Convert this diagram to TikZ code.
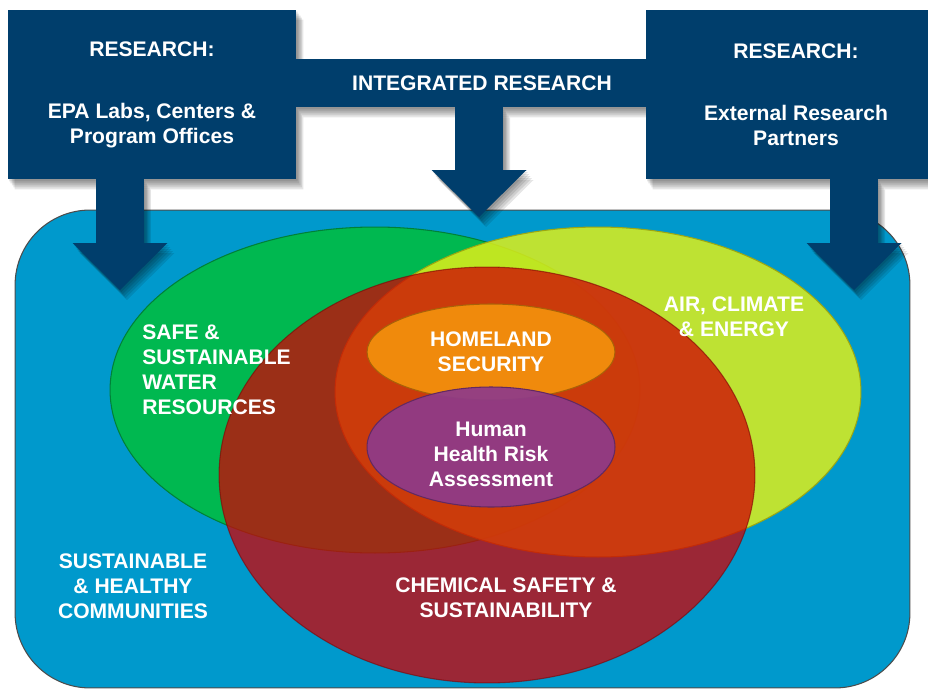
\documentclass[tikz,border=0pt]{standalone}
\usepackage{fontspec}
\setmainfont{Liberation Sans}
\usetikzlibrary{arrows.meta,shapes.geometric}
\definecolor{navy}{RGB}{0,62,108}
\definecolor{bluebg}{RGB}{0,153,204}
\definecolor{water}{RGB}{0,184,80}
\definecolor{lime}{RGB}{224,239,25}
\definecolor{chem}{RGB}{208,2,4}
\definecolor{homeland}{RGB}{240,138,12}
\definecolor{hhra}{RGB}{142,58,138}
\pgfdeclarelayer{shade}
\pgfdeclarelayer{front}
\pgfsetlayers{main,shade,front}

\begin{document}
\begin{tikzpicture}[x=0.02cm,y=-0.02cm,
  every node/.style={font=\bfseries\fontsize{12}{14.2}\selectfont},
  navybox/.style={rectangle,fill=navy,inner sep=0,text=white,align=center},
  blob/.style={ellipse,inner sep=0,line width=.6pt},
  lbl/.style={text=white,align=center,inner sep=0},
  bigarrow/.style={line width=0.96cm,-{Triangle[width=1.9cm,length=0.94cm,line width=0pt]}}]
\useasboundingbox (0,0) rectangle (928,692);

% Area
\node[draw=black!70,line width=.6pt,fill=bluebg,rounded corners=1.5cm,minimum width=17.9cm,minimum height=9.56cm,inner sep=0] (area) at (462.5,449) {};

% Circles
\node[blob,fill=water,draw=water!70!black,minimum width=10.6cm,minimum height=6.52cm] (swr) at (375,390) {};
\node[blob,fill=lime,fill opacity=.85,draw=lime!70!black,minimum width=10.52cm,minimum height=6.6cm] (ace) at (598,392) {};
\node[blob,fill=chem,fill opacity=.75,draw=chem!60!black,draw opacity=.6,minimum width=10.72cm,minimum height=8.32cm] (css) at (487,475) {};
\node[blob,fill=homeland,draw=homeland!70!black,minimum width=4.96cm,minimum height=1.92cm] (hs) at (491,352) {};
\node[blob,fill=hhra,fill opacity=.92,draw=hhra!70!black,minimum width=4.96cm,minimum height=2.4cm] (hhra) at (491,447) {};

% Labels
\node[lbl,anchor=west,align=left] (swrtext) at (142,370) {SAFE \&\\SUSTAINABLE\\WATER\\RESOURCES};
\node[lbl] (acetext) at (734,317) {AIR, CLIMATE\\\& ENERGY};
\node[lbl] (hstext) at (hs.center) {HOMELAND\\SECURITY};
\node[lbl,yshift=-.14cm] (hhratext) at (hhra.center) {Human\\Health Risk\\Assessment};
\node[lbl] (shctext) at (133,586) {SUSTAINABLE\\\& HEALTHY\\COMMUNITIES};
\node[lbl] (csstext) at (506,598) {CHEMICAL SAFETY \&\\SUSTAINABILITY};

% Research boxes
\coordinate (epatip) at (120,290);
\coordinate (irtip) at (479,217);
\coordinate (exttip) at (854,290);

\begin{pgfonlayer}{front}
\node[navybox,minimum width=7.44cm,minimum height=0.96cm] (bar) at (482,83) {INTEGRATED RESEARCH};
\node[navybox,minimum width=5.76cm,minimum height=3.38cm] (epa) at (152,94.5) {RESEARCH:\\[0.74cm]EPA Labs, Centers \&\\Program Offices};
\node[navybox,minimum width=6cm,minimum height=3.38cm] (ext) at (796,94.5) {RESEARCH:\\[0.74cm]External Research\\Partners};

%arrows
\draw[bigarrow,navy] (epa.south -| epatip) -- (epatip);
\draw[bigarrow,navy] (bar.south -| irtip) -- (irtip);
\draw[bigarrow,navy] (ext.south -| exttip) -- (exttip);
\end{pgfonlayer}

% Shadows
\begin{pgfonlayer}{shade}
\foreach \s in {2,4,6,8,10} {
\begin{scope}[transform canvas={xshift=.7*\s*0.02cm,yshift=-\s*0.02cm}]
\begin{scope}[transparency group,opacity=.1]
\foreach \b in {bar,epa,ext} \fill[black] (\b.north west) rectangle (\b.south east);
\draw[bigarrow,black] (epa.south -| epatip) -- (epatip);
\draw[bigarrow,black] (bar.south -| irtip) -- (irtip);
\draw[bigarrow,black] (ext.south -| exttip) -- (exttip);
\end{scope}
\end{scope}
}
\end{pgfonlayer}

\end{tikzpicture}
\end{document}
